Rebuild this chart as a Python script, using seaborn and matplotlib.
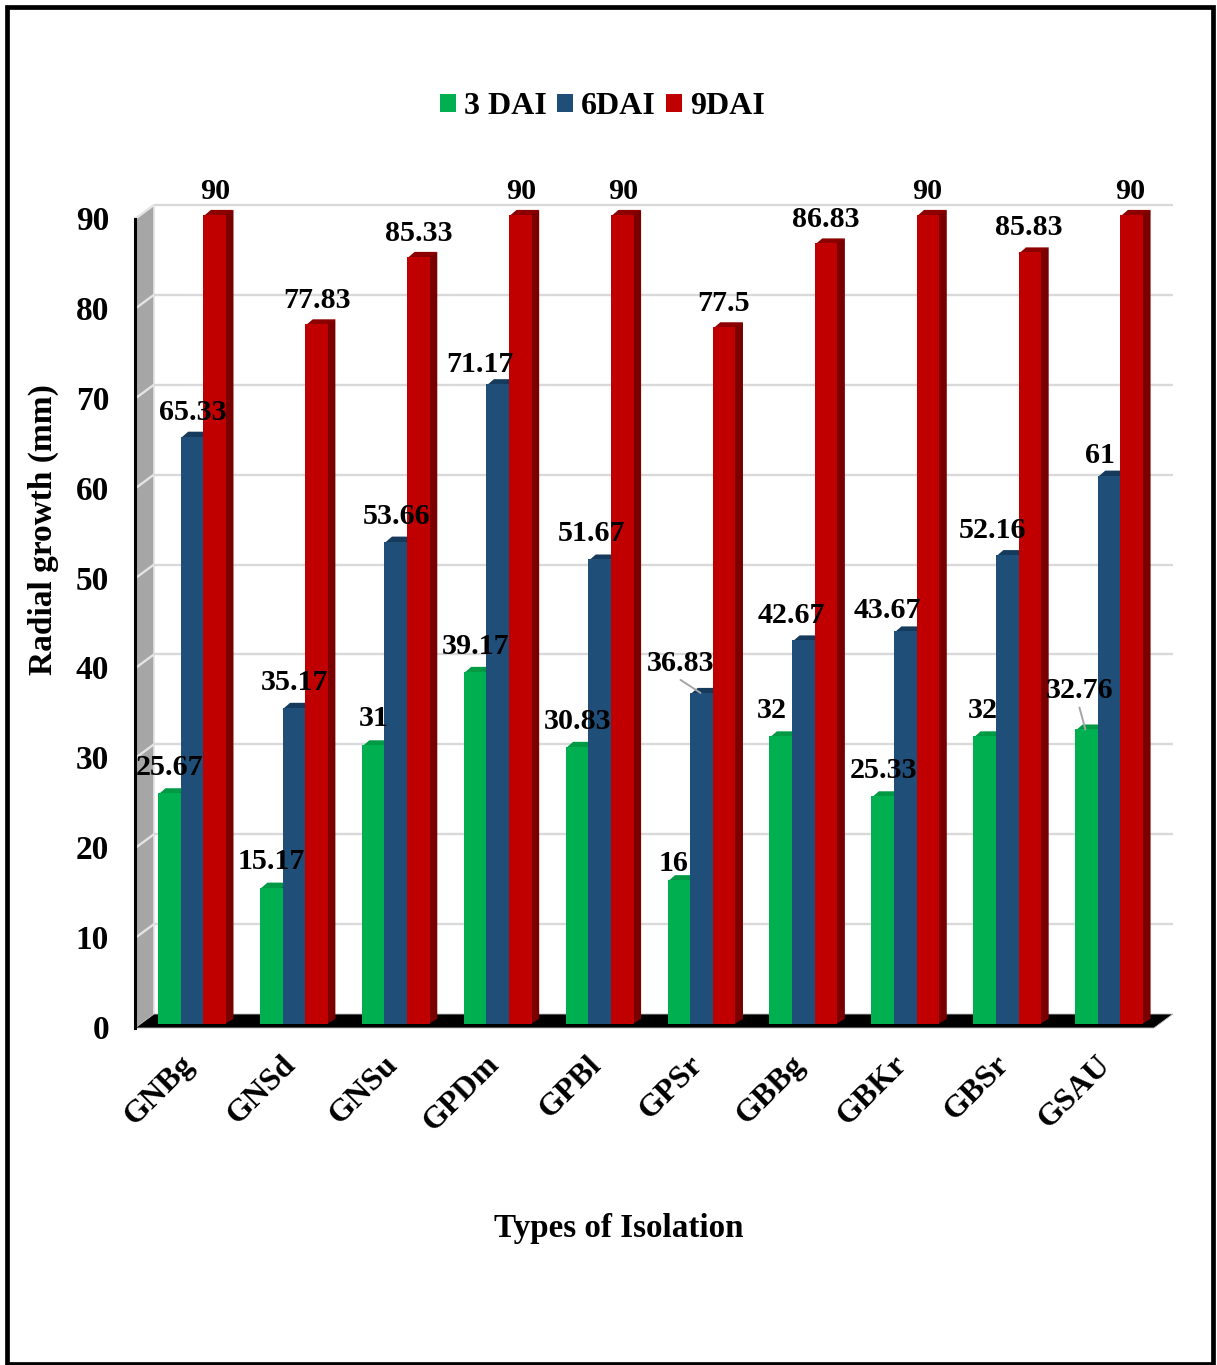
import numpy as np
import pandas as pd
import matplotlib
matplotlib.use("Agg")
import matplotlib.pyplot as plt
from matplotlib.patches import Polygon, Rectangle
from matplotlib.transforms import ScaledTranslation
import seaborn as sns

# Radial growth per isolate at each assessment day
isolates = ["GNBg", "GNSd", "GNSu", "GPDm", "GPBl", "GPSr", "GBBg", "GBKr", "GBSr", "GSAU"]
stages = ["3 DAI", "6DAI", "9DAI"]
growth_3 = [25.67, 15.17, 31, 39.17, 30.83, 16, 32, 25.33, 32, 32.76]
growth_6 = [65.33, 35.17, 53.66, 71.17, 51.67, 36.83, 42.67, 43.67, 52.16, 61]
growth_9 = [90, 77.83, 85.33, 90, 90, 77.5, 86.83, 90, 85.83, 90]
y_ticks = [0, 10, 20, 30, 40, 50, 60, 70, 80, 90]

# Label placement, in pixels from the top centre of each bar
offsets_3 = [(0.5, 25.5), (0.5, 26.5), (0.5, 26.5), (0.5, 25.5), (0.5, 25.5), (-5.5, 17), (-8.5, 26), (0.5, 25.5), (-1.5, 26), (-6.5, 38.5)]
offsets_6 = [(0.5, 24.5), (0.5, 25.5), (0.5, 25.5), (-17.5, 19.5), (-8.5, 25.5), (-20.5, 29.5), (-12.5, 24.5), (-17.5, 20.5), (-14.5, 24.5), (-9.5, 20.5)]
offsets_9 = [(0.5, 23.5), (0.5, 23.5), (0.5, 23.5), (0.5, 23.5), (0.5, 23.5), (-0.5, 23.5), (-0.5, 23.5), (-0.5, 23.5), (-1.5, 24.5), (-1.5, 23.5)]

front_colors = ["#00B050", "#1F4E79", "#C00000"]
cap_colors = ["#009A44", "#163A5B", "#8C0000"]
side_colors = ["#007A36", "#12304C", "#7A0000"]

W, H = 1217, 1365
PX_X = 101.9   # pixels per category
PX_Y = 8.99    # pixels per mm
LEFT, RIGHT, TOP, BOTTOM = 135, 1173, 205, 1028
BASE = 1024    # pixel row of the bar baseline
FIRST = 192    # pixel column of the first group's centre

sns.set_theme(style="white")
plt.rcParams["font.family"] = ["Liberation Serif", "DejaVu Serif"]
plt.rcParams["font.weight"] = "bold"

fig = plt.figure(figsize=(W / 100, H / 100), dpi=100, facecolor="white")
ax = fig.add_axes([LEFT / W, 1 - BOTTOM / H, (RIGHT - LEFT) / W, (BOTTOM - TOP) / H])
ax.patch.set_visible(False)

df = pd.DataFrame({
    "isolate": isolates * 3,
    "stage": np.repeat(stages, len(isolates)),
    "growth": growth_3 + growth_6 + growth_9,
})
sns.barplot(data=df, x="isolate", y="growth", hue="stage", hue_order=stages, order=isolates,
            palette=front_colors, saturation=1, width=0.667, gap=0, linewidth=0,
            edgecolor="none", errorbar=None, ax=ax)

ax.set_xlim((LEFT - FIRST) / PX_X, (RIGHT - FIRST) / PX_X)
ax.set_ylim((BASE - BOTTOM) / PX_Y, (BASE - TOP) / PX_Y)

# Depth of the bars and of the chart box, in data units
bar_dx, bar_dy = 7.5 / PX_X, 5 / PX_Y
box_dx = 19 / PX_X
front_dy = (BASE - BOTTOM) / PX_Y   # front wall sits slightly below the bar baseline
back_dy = (BASE - 1014) / PX_Y
seam_x, seam_y = 1.5 / PX_X, 1.5 / PX_Y   # overlap that hides seams under the bar fronts

x0, x1 = ax.get_xlim()
wall_x = x0 + box_dx
ticks = np.array(y_ticks, dtype=float)

# Side wall, floor and back-wall gridlines
ax.add_patch(Polygon([(x0, 90 + front_dy), (wall_x, 90 + back_dy), (wall_x, back_dy), (x0, front_dy)],
                     closed=True, fc="#A6A6A6", ec="none", zorder=1))
ax.add_patch(Polygon([(x0, front_dy), (wall_x, back_dy), (x1, back_dy), (x1 - box_dx, front_dy)],
                     closed=True, fc="black", ec="#BFBFBF", lw=0.6, zorder=1.5, clip_on=False))
for v in ticks[1:]:
    ax.plot([wall_x, x1], [v + back_dy, v + back_dy], color="#D9D9D9", lw=1.7, zorder=1.2,
            solid_capstyle="butt", clip_on=False)
    ax.plot([x0, wall_x], [v + front_dy, v + back_dy], color="#E4E4E4", lw=1.7, zorder=1.2,
            solid_capstyle="butt", clip_on=False)
ax.plot([wall_x, wall_x], [back_dy, 90 + back_dy], color="#E4E4E4", lw=1.2, zorder=1.1)

# Give each bar its top cap and right-hand side
for container, cap, side in zip(ax.containers, cap_colors, side_colors):
    for bar in container:
        bar.set_zorder(4)
        left, w, h = bar.get_x(), bar.get_width(), bar.get_height()
        right = left + w
        ax.add_patch(Polygon([(left, h - seam_y), (right, h - seam_y), (right + bar_dx, h + bar_dy),
                              (left + bar_dx, h + bar_dy)],
                             closed=True, fc=cap, ec="none", zorder=3))
        ax.add_patch(Polygon([(right - seam_x, 0), (right + bar_dx, bar_dy), (right + bar_dx, h + bar_dy),
                              (right - seam_x, h)],
                             closed=True, fc=side, ec="none", zorder=3))

# Value labels
for container, values, offsets in zip(ax.containers, [growth_3, growth_6, growth_9],
                                      [offsets_3, offsets_6, offsets_9]):
    for bar, val, off in zip(container, values, offsets):
        ax.annotate(f"{val:g}", xy=(bar.get_x() + bar.get_width() / 2, val), xytext=off,
                    textcoords="offset pixels", ha="center", va="center",
                    fontsize=21.6, fontweight="bold", color="black", zorder=6, annotation_clip=False)

# Leader lines for the two displaced labels
leaders = [(1, 5, (-20, 13), growth_6[5]), (0, 9, (-6, 22), growth_3[9])]
for series, idx, off, val in leaders:
    bar = ax.containers[series][idx]
    ax.annotate("", xy=(bar.get_x() + bar.get_width() / 2 - 0.01, val), xytext=off,
                textcoords="offset pixels", zorder=5,
                arrowprops=dict(arrowstyle="-", color="#A6A6A6", lw=1.4, shrinkA=0, shrinkB=0))

# Axes furniture
ax.set_yticks(ticks + front_dy, [str(t) for t in y_ticks])
ax.tick_params(axis="y", length=0, pad=26 / 1.39, labelsize=24)
ax.tick_params(axis="x", length=0, pad=16, labelsize=23)
y_nudge = ScaledTranslation(0, 1 / 100, fig.dpi_scale_trans)
x_nudge = ScaledTranslation(-13 / 100, 0, fig.dpi_scale_trans)
for lab in ax.get_yticklabels():
    lab.set_fontweight("bold")
    lab.set_color("black")
    lab.set_transform(lab.get_transform() + y_nudge)
for lab in ax.get_xticklabels():
    lab.set_rotation(45)
    lab.set_ha("right")
    lab.set_rotation_mode("anchor")
    lab.set_fontweight("bold")
    lab.set_color("black")
    lab.set_transform(lab.get_transform() + x_nudge)

for name in ("top", "right", "bottom"):
    ax.spines[name].set_visible(False)
ax.spines["left"].set_color("black")
ax.spines["left"].set_linewidth(2.2)
ax.spines["left"].set_bounds(front_dy, 90 + front_dy)

ax.set_xlabel("Types of Isolation", fontsize=23.9, fontweight="bold", color="black", va="center")
ax.xaxis.set_label_coords(618.5 / W, 1 - 1229 / H, transform=fig.transFigure)
ax.set_ylabel("Radial growth (mm)", fontsize=24, fontweight="bold", color="black", va="center")
ax.yaxis.set_label_coords(43 / W, 1 - 529.5 / H, transform=fig.transFigure)

sns.move_legend(ax, "center", bbox_to_anchor=(602.5 / W, 1 - 107 / H), bbox_transform=fig.transFigure,
                ncols=3, frameon=False, title=None, fontsize=23, handlelength=0.5, handleheight=0.5,
                handletextpad=0.24, columnspacing=0.33, borderpad=0, borderaxespad=0,
                labelcolor="black")

# Outer frame
fig.add_artist(Rectangle((7 / W, 1 - 1363.5 / H), (1212.5 - 7) / W, (1363.5 - 7) / H,
                         transform=fig.transFigure, fill=False, ec="black", lw=3.4))

fig.savefig("out.png", dpi=100, facecolor="white")
